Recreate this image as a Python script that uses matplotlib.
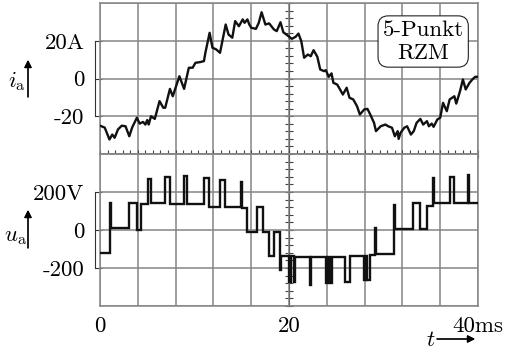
import numpy as np
import matplotlib
matplotlib.use('Agg')
import matplotlib.pyplot as plt
from matplotlib.ticker import MultipleLocator, NullFormatter

plt.rcParams['font.family'] = ['cmr10', 'DejaVu Serif']
plt.rcParams['mathtext.fontset'] = 'cm'
plt.rcParams['axes.unicode_minus'] = False

# ---- data: phase current i_a (ms, A) ----
t_i = [0.0, 0.5, 1.0, 1.3, 1.55, 1.9, 2.3, 2.7, 3.1, 3.4, 3.9, 4.2, 4.55, 4.8, 5.0, 5.15,
       5.4, 5.8, 6.3, 6.7, 6.9, 7.4, 7.7, 8.4, 8.9, 9.4, 9.8, 10.1, 10.6, 11.0, 11.15,
       11.6, 11.9, 12.3, 12.7, 13.3, 13.6, 14.0, 14.3, 14.7, 15.1, 15.3, 15.6, 15.8, 16.0,
       16.5, 16.8, 17.1, 17.5, 17.9, 18.4, 18.7, 19.1, 19.4, 19.95, 20.3, 20.7, 21.0, 21.3,
       21.6, 22.0, 22.3, 22.6, 23.0, 23.3, 23.7, 23.9, 24.2, 24.5, 24.7, 25.1, 25.4, 25.7,
       26.1, 26.4, 26.8, 27.2, 27.5, 27.96, 28.3, 28.6, 29.0, 29.2, 29.7, 30.2, 30.5, 30.9,
       31.2, 31.5, 31.6, 31.8, 32.2, 32.5, 32.9, 33.2, 33.5, 33.9, 34.2, 34.6, 34.8, 35.1,
       35.3, 35.7, 36.0, 36.3, 36.7, 37.0, 37.5, 37.7, 38.1, 38.4, 38.7, 39.1, 39.4, 39.7, 40.0]
i_a = [-25.0, -26.0, -32.3, -29.7, -31.4, -27.0, -25.0, -25.3, -30.6, -26.0, -20.8, -23.9,
       -23.0, -24.4, -22.0, -24.4, -20.0, -21.4, -12.0, -15.5, -15.5, -5.5, -9.4, 1.2, -5.5,
       5.7, 5.7, 8.3, 8.7, 9.2, 13.6, 24.2, 16.3, 15.4, 13.6, 28.6, 23.3, 21.6, 30.4, 27.7,
       31.3, 29.5, 31.3, 28.6, 26.9, 26.3, 29.5, 35.1, 28.6, 29.2, 26.0, 25.1, 29.8, 24.5,
       22.4, 21.0, 22.1, 23.8, 19.8, 11.0, 12.7, 11.8, 15.0, 11.5, 4.8, 3.9, 4.4, 0.9, 2.7,
       -2.3, -3.2, -5.8, -8.5, -4.9, -10.2, -11.1, -14.7, -19.1, -16.4, -16.1, -19.1, -23.5,
       -27.9, -25.3, -24.4, -25.3, -26.1, -30.6, -27.9, -32.0, -28.8, -26.1, -25.3, -29.7,
       -27.9, -23.5, -21.4, -24.4, -22.6, -25.3, -23.9, -25.6, -21.7, -20.8, -12.9, -17.3,
       -11.1, -9.4, -13.3, -6.7, -0.5, -5.8, -2.3, -0.5, 0.9, 0.9]

# ---- data: phase voltage u_a as switching instants (ms) and levels (V) ----
u_edges = [0.0, 1.03, 1.13, 3.04, 3.95, 4.31, 5.08, 5.36, 6.88, 7.38, 8.89, 9.24, 10.96,
           11.56, 12.73, 13.26, 14.95, 15.06, 15.60, 16.61, 17.22, 17.85, 18.38, 19.08,
           19.18, 20.00, 20.20, 20.50, 20.67, 22.19, 22.30, 23.95, 24.08, 24.30, 24.55,
           25.96, 26.42, 27.97, 28.10, 28.25, 28.54, 29.13, 29.22, 31.11, 31.20, 33.15,
           33.86, 34.57, 35.27, 35.38, 37.04, 37.46, 38.97, 39.08, 40.0]
u_levels = [-123, 140, 8, 144, 0, 135, 270, 140, 280, 135, 284, 138, 272, 123, 263, 122,
            254, 118, -8, 123, -8, -137, -8, -210, -137, -272, -138, -272, -140, -289,
            -142, -280, -142, -280, -142, -272, -138, -263, -136, -263, -132, 9, -128, 132,
            3, 144, 3, 126, 272, 140, 280, 140, 290, 140]

x_ticks = list(range(0, 41, 4))
x_labels = ['0', '', '', '', '', '20', '', '', '', '', '40ms']
i_ticks = [-20, 0, 20]
i_labels = ['-20', '0', '20A']
u_ticks = [-200, 0, 200]
u_labels = ['-200', '0', '200V']

W, H = 508, 355
fig = plt.figure(figsize=(W / 100, H / 100), dpi=100)


def rect(x0, y0, x1, y1):
    return [x0 / W, 1 - y1 / H, (x1 - x0) / W, (y1 - y0) / H]


ax1 = fig.add_axes(rect(100, 3, 478, 154))
ax2 = fig.add_axes(rect(100, 154, 478, 306))

GRID = '#858585'
FS = 16.5
for ax, ylim, ystep in ((ax1, (-40, 40), 20), (ax2, (-400, 400), 200)):
    ax.set_xlim(0, 40)
    ax.set_ylim(*ylim)
    ax.set_xticks(x_ticks)
    ax.set_yticks(np.arange(ylim[0], ylim[1] + 1, ystep))
    ax.grid(True, color=GRID, lw=1.1)
    ax.set_axisbelow(True)
    for s in ax.spines.values():
        s.set_color(GRID)
        s.set_linewidth(1.1)
    ax.tick_params(axis='y', which='both', length=0, labelleft=False)
    # centre-line ticks
    sec = ax.secondary_yaxis(0.5)
    sec.yaxis.set_major_locator(MultipleLocator(ystep / 5))
    sec.yaxis.set_major_formatter(NullFormatter())
    sec.tick_params(direction='inout', length=6, width=0.8, color='#444')
    sec.spines['left'].set_visible(False)

# ticks along the boundary between the two panels
ax1.xaxis.set_minor_locator(MultipleLocator(0.8))
ax1.tick_params(axis='x', which='both', direction='inout', length=6, width=0.8,
                color='#444', labelbottom=False)
ax2.tick_params(axis='x', which='major', length=0, pad=7.5, labelsize=FS)
ax2.set_xticklabels(x_labels)

# left bracket axes with labels
for ax, ticks, labels in ((ax1, i_ticks, i_labels), (ax2, u_ticks, u_labels)):
    lab = ax.secondary_yaxis(-5 / 378)
    lab.set_yticks(ticks, labels=labels)
    lab.tick_params(direction='in', length=5, width=0.8, color='#333', pad=7.5, labelsize=FS)
    lab.spines['left'].set_bounds(ticks[0], ticks[-1])
    lab.spines['left'].set_color('#333')
    lab.spines['left'].set_linewidth(0.8)

ax1.plot(t_i, i_a, color='#111111', lw=1.7, zorder=3)
ax2.stairs(u_levels, u_edges, baseline=None, color='#111111', lw=1.7, zorder=3)

ax1.text(0.855, 0.745, '5-Punkt\nRZM', transform=ax1.transAxes, ha='center', va='center',
         fontsize=FS, linespacing=1.2, zorder=5,
         bbox=dict(boxstyle='round,pad=0.2,rounding_size=0.45', fc='white', ec='#222', lw=0.8))

# axis names with arrows
fig.text(17 / W, 1 - 81 / H, r'$i_{\mathrm{a}}$', fontsize=FS, ha='center', va='center')
fig.text(15 / W, 1 - 237 / H, r'$u_{\mathrm{a}}$', fontsize=FS, ha='center', va='center')
arr = dict(arrowstyle='-|>', lw=0.9, color='black', mutation_scale=11, shrinkA=0, shrinkB=0)
fig.add_artist(plt.annotate('', xy=(28, H - 60), xytext=(28, H - 97),
                            xycoords='figure pixels', arrowprops=arr))
fig.add_artist(plt.annotate('', xy=(28, H - 210), xytext=(28, H - 248),
                            xycoords='figure pixels', arrowprops=arr))
fig.text(431 / W, 1 - 340 / H, r'$t$', fontsize=FS, ha='center', va='center')
fig.add_artist(plt.annotate('', xy=(475, H - 339), xytext=(437, H - 339),
                            xycoords='figure pixels', arrowprops=arr))

fig.savefig('out.png', dpi=100)
